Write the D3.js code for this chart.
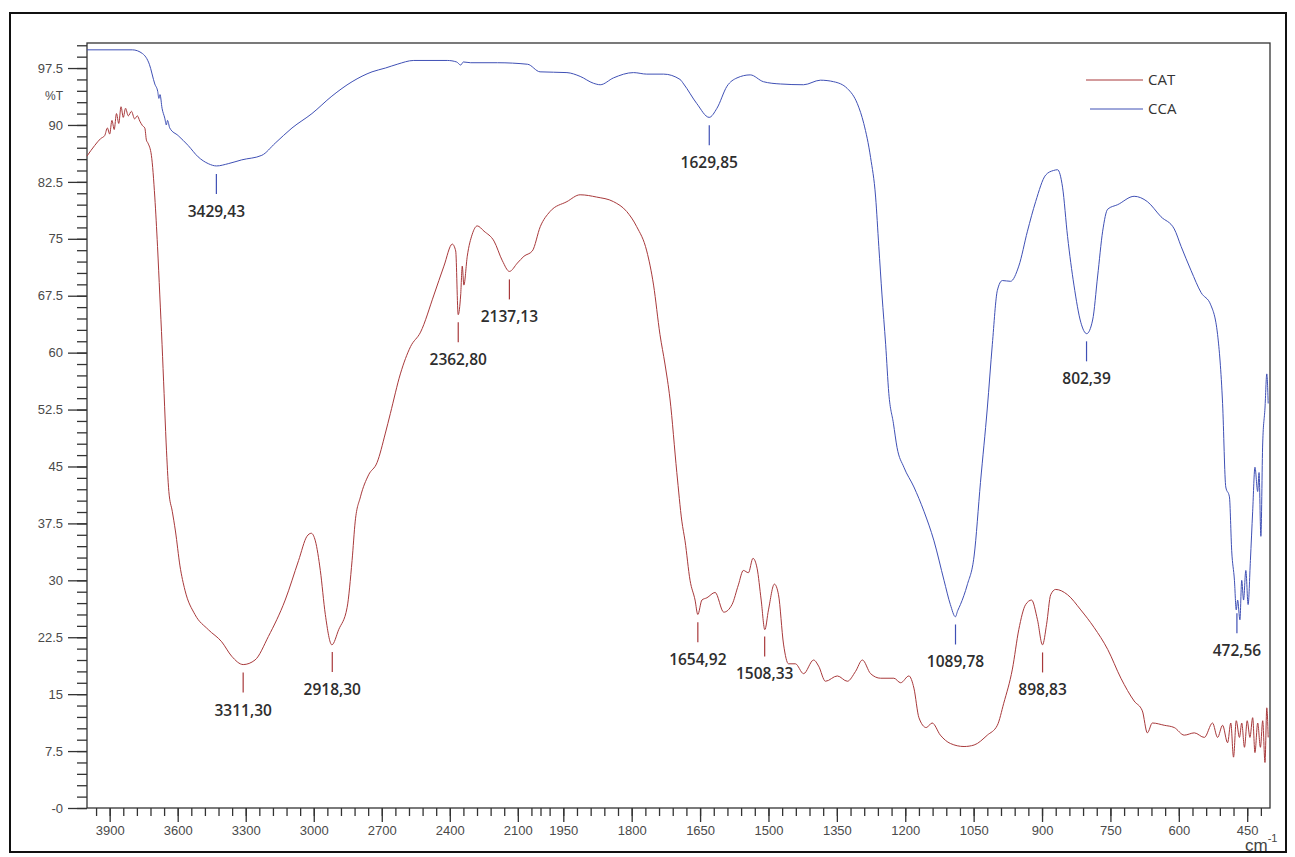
<!DOCTYPE html>
<html>
<head>
<meta charset="utf-8">
<script src="https://cdn.jsdelivr.net/npm/d3@7"></script>
<style>
  body { margin: 0; background: #fff; }
  .tick line { stroke: #333; stroke-width: 1.3; }
</style>
</head>
<body>
<div id="chart"></div>
<script>
// FTIR spectra: [wavenumber cm-1, %T]
var catData = [
  [4000, 85.9],[3966, 87.3],[3940, 88.2],[3922, 88.6],[3910, 89.6],[3900, 88.8],[3890, 90.6],[3880, 89.4],
  [3870, 91.5],[3860, 90.2],[3850, 92.4],[3840, 91.0],[3830, 92.2],[3818, 91.2],[3804, 91.8],[3790, 90.8],
  [3778, 91.2],[3767, 90.5],[3755, 89.9],[3745, 89.6],[3738, 88.0],[3731, 87.6],[3716, 86.0],[3701, 80.5],
  [3689, 74.0],[3679, 67.6],[3669, 61.1],[3660, 54.6],[3651, 48.1],[3639, 41.7],[3624, 39.1],[3610, 36.5],
  [3590, 31.9],[3568, 28.7],[3524, 25.5],[3465, 23.5],[3406, 21.9],[3362, 20.0],[3311, 18.9],[3259, 19.5],
  [3200, 22.6],[3126, 27.4],[3067, 32.6],[3030, 35.8],[3011, 36.2],[2993, 35.2],[2971, 31.3],[2949, 25.5],
  [2920, 21.5],[2890, 23.5],[2853, 26.4],[2831, 32.6],[2817, 37.8],[2794, 41.0],[2758, 43.9],[2721, 45.5],
  [2684, 49.4],[2662, 52.0],[2618, 57.2],[2573, 60.8],[2529, 62.7],[2470, 67.6],[2426, 71.4],[2389, 74.3],
  [2374, 73.4],[2363, 65.0],[2352, 67.6],[2345, 71.4],[2338, 68.9],[2323, 72.7],[2301, 75.6],[2279, 76.7],
  [2249, 76.0],[2205, 74.7],[2168, 72.1],[2137, 70.7],[2102, 71.8],[2073, 72.7],[2036, 73.4],[2001, 76.6],
  [1979, 78.6],[1942, 79.9],[1913, 80.8],[1877, 80.5],[1840, 79.9],[1811, 78.6],[1789, 76.6],[1767, 73.4],
  [1752, 68.9],[1738, 62.4],[1727, 58.5],[1716, 53.9],[1701, 44.2],[1690, 37.8],[1683, 35.2],[1672, 30.0],
  [1661, 27.4],[1655, 25.5],[1646, 27.4],[1635, 27.7],[1617, 28.4],[1598, 25.8],[1580, 26.8],[1566, 29.4],
  [1555, 31.3],[1544, 31.0],[1534, 32.9],[1525, 31.6],[1516, 27.4],[1508, 23.5],[1500, 26.1],[1487, 29.5],
  [1478, 28.1],[1467, 21.6],[1456, 19.0],[1441, 19.0],[1423, 17.7],[1401, 19.5],[1390, 18.7],[1375, 16.7],
  [1349, 17.4],[1327, 16.7],[1309, 18.0],[1294, 19.5],[1276, 17.7],[1254, 17.1],[1225, 17.1],[1210, 16.5],
  [1192, 17.4],[1181, 15.8],[1170, 11.9],[1154, 10.6],[1141, 11.2],[1123, 9.6],[1101, 8.5],[1071, 8.1],
  [1049, 8.3],[1020, 9.6],[998, 10.9],[984, 13.8],[965, 18.3],[951, 23.5],[936, 26.8],[923, 27.4],
  [910, 24.8],[899, 21.5],[890, 24.2],[881, 28.1],[870, 28.8],[844, 28.1],[815, 26.1],[786, 23.8],
  [756, 20.9],[727, 17.1],[698, 14.1],[680, 12.8],[669, 9.9],[658, 11.2],[632, 10.9],[610, 10.6],
  [588, 9.6],[566, 9.9],[544, 9.3],[526, 11.2],[515, 9.3],[504, 10.9],[493, 8.6],[486, 11.2],
  [480, 6.7],[474, 11.5],[467, 9.3],[462, 11.2],[456, 8.0],[450, 11.5],[444, 9.3],[438, 11.9],
  [433, 7.3],[427, 11.2],[421, 8.0],[416, 11.5],[411, 6.0],[407, 13.2],[404, 9.3]
];

var ccaData = [
  [4000, 99.9],[3800, 99.9],[3755, 99.4],[3725, 98.0],[3701, 95.4],[3688, 94.4],[3683, 93.5],[3678, 94.0],
  [3669, 92.2],[3657, 90.9],[3650, 90.0],[3645, 90.6],[3635, 89.6],[3598, 88.6],[3554, 87.3],[3510, 85.8],
  [3465, 84.9],[3429, 84.6],[3377, 84.9],[3318, 85.4],[3229, 86.0],[3170, 87.6],[3096, 89.6],[3008, 91.5],
  [2920, 93.8],[2831, 95.7],[2743, 97.0],[2684, 97.5],[2632, 98.0],[2559, 98.5],[2411, 98.5],[2370, 98.3],
  [2352, 97.9],[2340, 98.3],[2308, 98.2],[2190, 98.2],[2057, 98.0],[2002, 97.0],[1942, 96.9],[1913, 96.4],
  [1884, 95.5],[1869, 95.3],[1840, 96.2],[1796, 96.9],[1767, 96.7],[1730, 96.7],[1694, 96.0],[1686, 95.4],
  [1657, 92.8],[1630, 91.0],[1613, 92.2],[1591, 95.1],[1569, 96.2],[1540, 96.6],[1511, 95.7],[1474, 95.4],
  [1423, 95.3],[1386, 95.9],[1357, 95.7],[1327, 94.8],[1305, 92.8],[1291, 90.2],[1276, 85.7],[1265, 80.5],
  [1258, 74.0],[1251, 67.6],[1243, 61.1],[1236, 54.6],[1226, 50.7],[1218, 47.5],[1203, 44.9],[1181, 42.3],
  [1159, 39.1],[1137, 35.2],[1115, 30.0],[1101, 26.8],[1090, 25.2],[1085, 26.0],[1079, 26.8],[1064, 29.4],
  [1049, 33.2],[1035, 42.9],[1020, 52.7],[1009, 61.1],[998, 68.2],[987, 69.5],[969, 69.4],[951, 71.4],
  [932, 76.0],[914, 79.9],[892, 83.4],[875, 84.0],[866, 84.1],[855, 81.8],[844, 75.3],[830, 68.9],
  [815, 64.0],[802, 62.5],[789, 64.3],[778, 70.1],[767, 76.0],[756, 78.9],[734, 79.5],[698, 80.6],
  [669, 79.9],[639, 77.9],[610, 76.3],[595, 74.0],[573, 70.8],[551, 67.9],[530, 66.3],[515, 62.4],
  [504, 53.3],[497, 42.3],[489, 41.0],[484, 33.9],[478, 30.0],[474, 26.1],[471, 27.4],[466, 24.8],
  [462, 30.0],[458, 27.4],[453, 31.3],[448, 26.8],[443, 32.6],[438, 39.1],[433, 44.9],[427, 41.7],
  [424, 44.2],[420, 35.8],[416, 48.1],[411, 52.7],[407, 57.2],[404, 53.3]
];

// labelled band positions and the curve each belongs to
var peakWn     = [3429.43, 3311.30, 2918.30, 2362.80, 2137.13, 1654.92, 1508.33, 1629.85, 1089.78, 898.83, 802.39, 472.56];
var peakSeries = ["CCA", "CAT", "CAT", "CAT", "CAT", "CAT", "CAT", "CCA", "CCA", "CAT", "CCA", "CCA"];

var xTicks = [3900, 3600, 3300, 3000, 2700, 2400, 2100, 1950, 1800, 1650, 1500, 1350, 1200, 1050, 900, 750, 600, 450];
var yTicks = [0, 7.5, 15, 22.5, 30, 37.5, 45, 52.5, 60, 67.5, 75, 82.5, 90, 97.5];
var yTickLabels = ["-0", "7.5", "15", "22.5", "30", "37.5", "45", "52.5", "60", "67.5", "75", "82.5", "90", "97.5"];

var seriesNames = ["CAT", "CCA"];
var seriesColors = {CAT: "#a8393b", CCA: "#3f50b5"};

var margin = {top: 43, right: 25, bottom: 49, left: 87},
    width = 1295 - margin.left - margin.right,
    height = 857 - margin.top - margin.bottom;

// FTIR style axis: 4000-2000 compressed to half scale of 2000-400
var x = d3.scaleLinear()
    .domain([4000, 2000, 400])
    .range([0, 453.5, width]);

var y = d3.scaleLinear()
    .domain([0, 100.8])
    .range([height, 0]);

var root = d3.select("#chart")
  .append("svg")
    .attr("width", 1295)
    .attr("height", 857);

// outer border of the figure
root.append("rect")
    .attr("x", 10)
    .attr("y", 13)
    .attr("width", 1276)
    .attr("height", 839)
    .attr("fill", "none")
    .attr("stroke", "#111")
    .attr("stroke-width", 2);

var svg = root.append("g")
    .attr("transform", `translate(${margin.left},${margin.top})`);

function styleLabels(g) {
  g.select(".domain").remove();
  g.attr("font-family", "Liberation Sans, Arial, sans-serif")
   .attr("font-size", 13);
  g.selectAll("text").attr("fill", "#4a4a4a");
}

// minor ticks
var xMinor = d3.range(3960, 2000, -60).concat([2000], d3.range(1980, 400, -30));
svg.append("g")
    .attr("transform", "translate(0," + height + ")")
    .call(d3.axisBottom(x).tickValues(xMinor).tickSize(8).tickFormat(""))
    .call(function(g) { g.select(".domain").remove(); });

svg.append("g")
    .call(d3.axisLeft(y).tickValues(d3.range(0, 100.8, 1.5)).tickSize(10).tickFormat(""))
    .call(function(g) { g.select(".domain").remove(); });

// major ticks
svg.append("g")
    .attr("transform", "translate(0," + height + ")")
    .call(d3.axisBottom(x).tickValues(xTicks).tickSize(14).tickPadding(4).tickFormat(d3.format("d")))
    .call(styleLabels);

svg.append("g")
    .call(d3.axisLeft(y).tickValues(yTicks).tickSize(19).tickPadding(5)
      .tickFormat(function(d, i) { return yTickLabels[i]; }))
    .call(styleLabels);

svg.append("text")
    .attr("x", -24)
    .attr("y", y(93.75))
    .attr("dy", "0.32em")
    .attr("text-anchor", "end")
    .attr("font-family", "Liberation Sans, Arial, sans-serif")
    .attr("font-size", 12)
    .attr("fill", "#4a4a4a")
    .text("%T");

// plot frame
svg.append("rect")
    .attr("width", width)
    .attr("height", height)
    .attr("fill", "none")
    .attr("stroke", "#333")
    .attr("stroke-width", 1.3);

var line = d3.line()
    .curve(d3.curveMonotoneX)
    .x(function(d) { return x(d[0]); })
    .y(function(d) { return y(d[1]); });

var dataBy = {CAT: catData, CCA: ccaData};

svg.selectAll(".spectrum")
    .data(seriesNames)
    .enter().append("path")
      .attr("class", "spectrum")
      .attr("fill", "none")
      .attr("stroke", function(d) { return seriesColors[d]; })
      .attr("stroke-width", 1)
      .attr("d", function(d) { return line(dataBy[d]); });

// value of a curve at a wavenumber (between read points)
function valueAt(data, wn) {
  var i = data.findIndex(function(d) { return d[0] <= wn; });
  if (i <= 0) return data[0][1];
  var a = data[i - 1], b = data[i];
  return a[1] + (a[0] - wn) / (a[0] - b[0]) * (b[1] - a[1]);
}

var peaks = peakWn.map(function(wn, i) {
  return {wn: wn, series: peakSeries[i], t: valueAt(dataBy[peakSeries[i]], wn)};
});

var peak = svg.selectAll(".peak")
    .data(peaks)
    .enter().append("g")
      .attr("class", "peak")
      .attr("transform", function(d) { return "translate(" + x(d.wn) + "," + y(d.t) + ")"; });

peak.append("line")
    .attr("y1", 8)
    .attr("y2", 28)
    .attr("stroke", function(d) { return seriesColors[d.series]; })
    .attr("stroke-width", 1.2);

peak.append("text")
    .attr("y", 51)
    .attr("text-anchor", "middle")
    .attr("font-family", "Open Sans, sans-serif")
    .attr("font-weight", 600)
    .attr("font-size", 15.5)
    .attr("fill", "#2e2e2e")
    .text(function(d) { return d3.format(".2f")(d.wn).replace(".", ","); });

// legend
var legend = svg.selectAll(".legend")
    .data(seriesNames)
    .enter().append("g")
      .attr("class", "legend")
      .attr("transform", function(d, i) { return "translate(0," + (37 + i * 29) + ")"; });

legend.append("line")
    .attr("x1", function(d, i) { return 999 + i * 4; })
    .attr("x2", 1056)
    .attr("stroke", function(d) { return seriesColors[d]; })
    .attr("stroke-width", 1);

legend.append("text")
    .attr("x", 1061)
    .attr("dy", "0.35em")
    .attr("font-family", "Open Sans, sans-serif")
    .attr("font-size", 15)
    .attr("fill", "#333")
    .text(function(d) { return d; });

// unit label, sits just under and right of the last tick label
var unit = svg.append("text")
    .attr("x", 1158)
    .attr("y", height + 43)
    .attr("font-family", "Liberation Sans, Arial, sans-serif")
    .attr("font-size", 17)
    .attr("fill", "#444")
    .text("cm");
unit.append("tspan")
    .attr("dy", -9)
    .attr("font-size", 11)
    .text("-1");
</script>
</body>
</html>
